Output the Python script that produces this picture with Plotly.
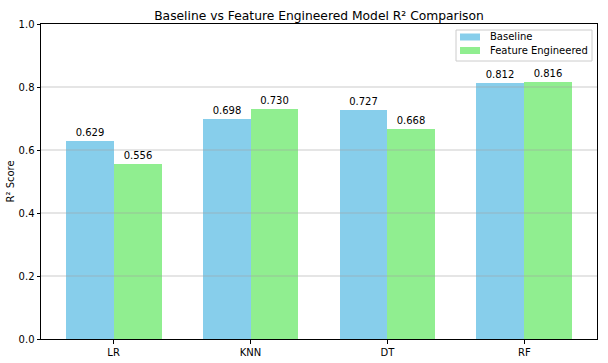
import plotly.graph_objects as go

models = ["LR", "KNN", "DT", "RF"]
baseline = [0.629, 0.698, 0.727, 0.812]
feature_eng = [0.556, 0.730, 0.668, 0.816]
y_ticks = [0.0, 0.2, 0.4, 0.6, 0.8, 1.0]
series_names = ["Baseline", "Feature Engineered"]
series_colors = ["#87CEEB", "#90EE90"]

x = list(range(len(models)))
w = 0.35
font = "DejaVu Sans"

W, H = 608, 363
# plot area in screen pixels: x 41..597, y 24..339
L, R, T, B = 41, 11, 24, 24
PW, PH = W - L - R, H - T - B


def px(xs):
    return (xs - L) / PW


def py(ys):
    return (H - B - ys) / PH


fig = go.Figure()
for vals, name, col, off in [(baseline, series_names[0], series_colors[0], -w / 2),
                             (feature_eng, series_names[1], series_colors[1], w / 2)]:
    fig.add_trace(go.Bar(
        x=[i + off for i in x], y=vals, width=w, name=name,
        marker=dict(color=col, line=dict(width=0)),
        text=[f"{v:.3f}" for v in vals], textposition="outside",
        textfont=dict(size=10, color="black", family=font), cliponaxis=False,
        showlegend=False, hoverinfo="skip"))

shapes = []
# grid lines drawn above bars (matplotlib default)
for t in y_ticks[1:-1]:
    shapes.append(dict(type="line", xref="paper", x0=0, x1=1, yref="y", y0=t, y1=t,
                       line=dict(color="rgba(160,160,160,0.55)", width=1), layer="above"))

# manual legend (matplotlib style)
shapes.append(dict(type="rect", xref="paper", yref="paper",
                   x0=px(456), x1=px(592), y0=py(61), y1=py(30),
                   fillcolor="rgba(255,255,255,0.8)", line=dict(color="#cccccc", width=1),
                   layer="above"))
annotations = []
rows = [37, 50.5]
for name, col, yc in zip(series_names, series_colors, rows):
    shapes.append(dict(type="rect", xref="paper", yref="paper",
                       x0=px(460), x1=px(480), y0=py(yc + 3.5), y1=py(yc - 3.5),
                       fillcolor=col, line=dict(width=0), layer="above"))
    annotations.append(dict(text=name, xref="paper", yref="paper", x=px(488), y=py(yc),
                            xanchor="left", yanchor="middle", showarrow=False,
                            font=dict(size=10, color="black", family=font)))

annotations.append(dict(text="R² Score", xref="paper", yref="paper", x=0, y=0.5,
                        xshift=-31, xanchor="center", yanchor="middle", textangle=-90,
                        showarrow=False, font=dict(size=10, color="black", family=font)))

fig.update_layout(
    width=W, height=H,
    margin=dict(l=L, r=R, t=T, b=B, autoexpand=False),
    paper_bgcolor="white", plot_bgcolor="white",
    font=dict(family=font, size=10, color="black"),
    title=dict(text="Baseline vs Feature Engineered Model R² Comparison",
               x=0.5, xref="paper", xanchor="center", y=1, yref="paper",
               yanchor="bottom", pad=dict(b=4), font=dict(size=12.3)),
    barmode="overlay", bargap=0, showlegend=False,
    shapes=shapes, annotations=annotations,
    hovermode=False,
)
fig.update_xaxes(range=[-0.53, 3.53], tickvals=x, ticktext=models,
                 showline=True, linecolor="black", linewidth=1, mirror=True,
                 ticks="outside", ticklen=3.5, tickcolor="black",
                 showgrid=False, zeroline=False, tickfont=dict(size=10),
                 automargin=False, fixedrange=True)
fig.update_yaxes(range=[0, 1.0], tickvals=y_ticks,
                 ticktext=[f"{v:.1f}" for v in y_ticks],
                 showline=True, linecolor="black", linewidth=1, mirror=True,
                 ticks="outside", ticklen=3.5, tickcolor="black",
                 showgrid=False, zeroline=False, tickfont=dict(size=10),
                 automargin=False, fixedrange=True)

fig.write_html("out.html", config={"displayModeBar": False},
               post_script="document.body.style.margin='0';document.body.style.overflow='hidden';")
